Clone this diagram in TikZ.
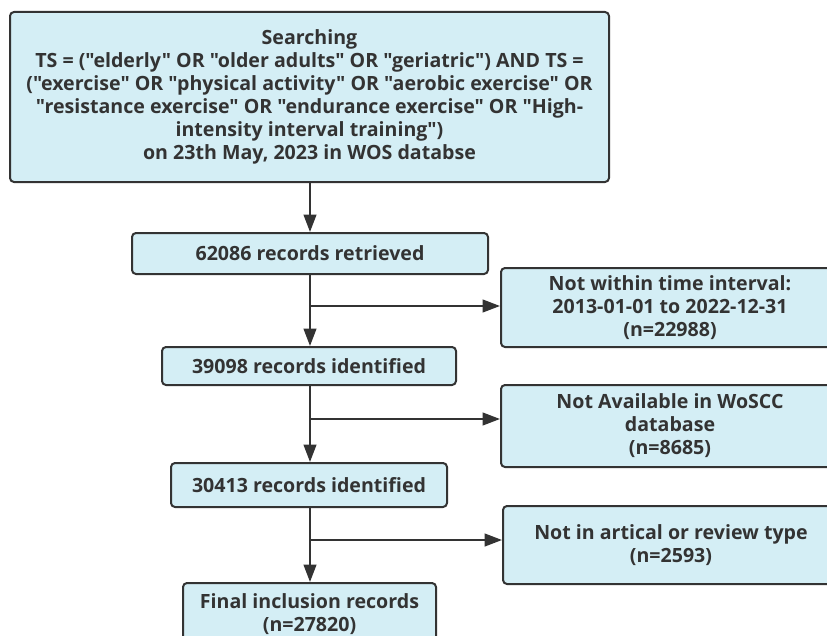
\documentclass[tikz,border=0pt]{standalone}
\usepackage{fontspec}
\setmainfont{Open Sans}[Ligatures=TeXOff]
\usetikzlibrary{arrows.meta}
\definecolor{boxfill}{HTML}{D4EEF5}
\definecolor{ink}{HTML}{333333}
\newcommand{\tightlines}{\lineskiplimit=-20pt\relax}
\begin{document}
\begin{tikzpicture}[x=0.75pt,y=-0.75pt,
  box/.style={draw=ink, fill=boxfill, line width=1.5pt, rounded corners=3pt, inner sep=0pt},
  txt/.style={text=ink, align=center, inner sep=0pt, font=\bfseries\fontsize{14.7}{17.3}\selectfont\tightlines},
  flow/.style={draw=ink, line width=1.5pt, -{Triangle[length=13pt,width=9.5pt]}}]
\useasboundingbox (0,0) rectangle (827,635);
\clip (0,0) rectangle (827,635);
% boxes
\node[box, txt, minimum width=599*0.75pt, minimum height=170*0.75pt] (search) at (309.5,97) {Searching\\TS = ("elderly" OR "older adults" OR "geriatric") AND TS =\\("exercise" OR "physical activity" OR "aerobic exercise" OR\\"resistance exercise" OR "endurance exercise" OR "High-\\intensity interval training")\\on 23th May, 2023 in WOS databse};
\node[box, txt, minimum width=356*0.75pt, minimum height=41*0.75pt] (retr) at (310,253.5) {62086 records retrieved};
\node[box, txt, minimum width=294*0.75pt, minimum height=38*0.75pt] (ida) at (309,366) {39098 records identified};
\node[box, txt, minimum width=276*0.75pt, minimum height=44*0.75pt] (idb) at (309,485) {30413 records identified};
\node[box, txt, minimum width=253*0.75pt, minimum height=62*0.75pt] (final) at (309.5,614) {Final inclusion records\\(n=27820)};
\node[box, txt, minimum width=338*0.75pt, minimum height=79*0.75pt] (ra) at (670,307.5) {Not within time interval:\\2013-01-01 to 2022-12-31\\(n=22988)};
\node[box, txt, minimum width=338*0.75pt, minimum height=82*0.75pt] (rb) at (670,426) {Not Available in WoSCC\\database\\(n=8685)};
\node[box, txt, minimum width=336*0.75pt, minimum height=78*0.75pt] (rc) at (671,545) {Not in artical or review type\\(n=2593)};
% branch points
\coordinate (ba) at (310,306);
\coordinate (bb) at (310,419);
\coordinate (bc) at (310,540);
% connectors
\draw[flow] (search.south -| ba) -- (retr.north -| ba);
\draw[flow] (retr.south -| ba) -- (ida.north -| ba);
\draw[flow] (ba) -- (ba -| ra.west);
\draw[flow] (ida.south -| bb) -- (idb.north -| bb);
\draw[flow] (bb) -- (bb -| rb.west);
\draw[flow] (idb.south -| bc) -- (final.north -| bc);
\draw[flow] (bc) -- (bc -| rc.west);
\end{tikzpicture}
\end{document}
